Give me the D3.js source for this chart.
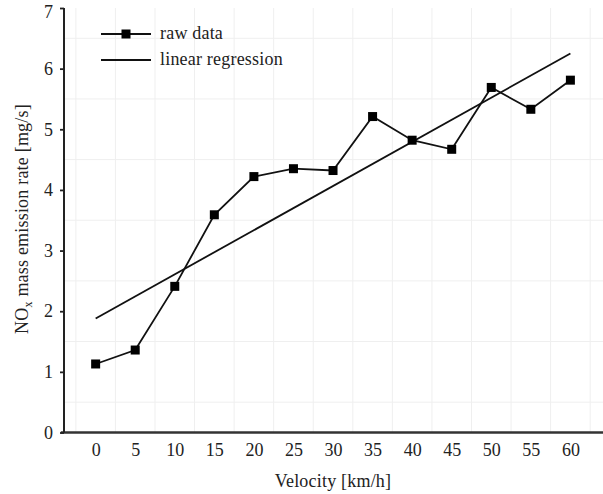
<!DOCTYPE html>
<html>
<head>
<meta charset="utf-8">
<script src="https://cdn.jsdelivr.net/npm/d3@7"></script>
<style>
  html, body { margin: 0; padding: 0; background: #fff; }
  svg { display: block; }
  svg text { font-family: 'Liberation Serif', 'DejaVu Serif', serif; }
</style>
</head>
<body>
<svg id="chart" width="603" height="494"></svg>
<script>
'use strict';
// velocity [km/h]
var velocity = [0, 5, 10, 15, 20, 25, 30, 35, 40, 45, 50, 55, 60];
// NOx mass emission rate [mg/s]
var rawData = [1.13, 1.36, 2.41, 3.59, 4.22, 4.35, 4.32, 5.21, 4.82, 4.67, 5.69, 5.33, 5.81];
// regression line end points
var regX = [0, 60];
var regY = [1.88, 6.25];
var xTicks = [0, 5, 10, 15, 20, 25, 30, 35, 40, 45, 50, 55, 60];
var yTicks = [0, 1, 2, 3, 4, 5, 6, 7];
var legendLabels = ['raw data', 'linear regression'];

var serif = "'Liberation Serif', 'DejaVu Serif', serif";
var svg = d3.select('#chart');
var x = d3.scaleLinear().domain([-4, 64.5]).range([64, 606]);
var y = d3.scaleLinear().domain([0, 7]).range([432.5, 8]);

// faint background grid (half steps)
var g = svg.append('g');
var vGrid = d3.range(-2.5, 64, 5);
var hGrid = d3.range(0.5, 7, 1);
g.selectAll('line.v').data(vGrid).enter().append('line')
  .attr('x1', function (d) { return x(d); }).attr('x2', function (d) { return x(d); })
  .attr('y1', y(7)).attr('y2', y(0))
  .style('stroke', '#efefef').style('stroke-width', 1);
g.selectAll('line.h').data(hGrid).enter().append('line')
  .attr('x1', x(-4)).attr('x2', 603)
  .attr('y1', function (d) { return y(d); }).attr('y2', function (d) { return y(d); })
  .style('stroke', '#efefef').style('stroke-width', 1);

// axes
var xAxis = svg.append('g').attr('transform', 'translate(0,' + y(0) + ')')
  .call(d3.axisBottom(x).tickValues(xTicks).tickFormat(d3.format('d')).tickSize(0).tickPadding(11));
var yAxis = svg.append('g').attr('transform', 'translate(' + x(-4) + ',0)')
  .call(d3.axisLeft(y).tickValues(yTicks).tickFormat(d3.format('d')).tickSize(4).tickPadding(7));
xAxis.attr('font-family', serif).attr('font-size', 18);
yAxis.attr('font-family', serif).attr('font-size', 18);
xAxis.select('.domain').attr('d', 'M' + x(-4.4) + ',0H603').style('stroke', '#333').style('stroke-width', 2.5);
yAxis.select('.domain').attr('d', 'M0,' + y(0) + 'V' + y(7)).style('stroke', '#222').style('stroke-width', 2);
yAxis.selectAll('.tick line').style('stroke', '#222').style('stroke-width', 1.8);
svg.selectAll('.tick text').style('fill', '#222');
// top label sits a little low so it is not clipped
yAxis.selectAll('.tick text').filter(function (d) { return d === 7; }).attr('dy', '0.55em');

// regression line
svg.append('path').datum(regX.map(function (d, i) { return [d, regY[i]]; }))
  .attr('d', d3.line().x(function (d) { return x(d[0]); }).y(function (d) { return y(d[1]); }))
  .style('fill', 'none').style('stroke', '#111').style('stroke-width', 1.8);

// raw data line + markers
var line = d3.line().x(function (d, i) { return x(velocity[i]); }).y(function (d) { return y(d); });
svg.append('path').datum(rawData).attr('d', line)
  .style('fill', 'none').style('stroke', '#111').style('stroke-width', 1.8);
svg.selectAll('rect.pt').data(rawData).enter().append('rect')
  .attr('x', function (d, i) { return x(velocity[i]) - 4.5; })
  .attr('y', function (d) { return y(d) - 4.5; })
  .attr('width', 9).attr('height', 9).style('fill', '#000');

// legend
var leg = svg.append('g');
[34, 60].forEach(function (ly, i) {
  leg.append('line').attr('x1', 101).attr('x2', 151).attr('y1', ly).attr('y2', ly)
    .style('stroke', '#111').style('stroke-width', 1.8);
  if (i === 0) {
    leg.append('rect').attr('x', 121.5).attr('y', ly - 4.5).attr('width', 9).attr('height', 9).style('fill', '#000');
  }
  leg.append('text').attr('x', 160).attr('y', ly + 5).text(legendLabels[i])
    .style('font-size', '18px').style('letter-spacing', '0.2px').style('fill', '#222');
});

// axis titles
svg.append('text').attr('x', x(30)).attr('y', 486.5).attr('text-anchor', 'middle')
  .text('Velocity [km/h]').style('font-size', '18px').style('letter-spacing', '0.2px').style('fill', '#222');
var yt = svg.append('text').attr('transform', 'translate(28,219) rotate(-90)')
  .attr('text-anchor', 'middle').style('font-size', '18px').style('letter-spacing', '0.2px').style('fill', '#222');
yt.append('tspan').text('NO');
yt.append('tspan').attr('dy', 4).style('font-size', '12px').text('x');
yt.append('tspan').attr('dy', -4).text(' mass emission rate [mg/s]');
</script>
</body>
</html>
